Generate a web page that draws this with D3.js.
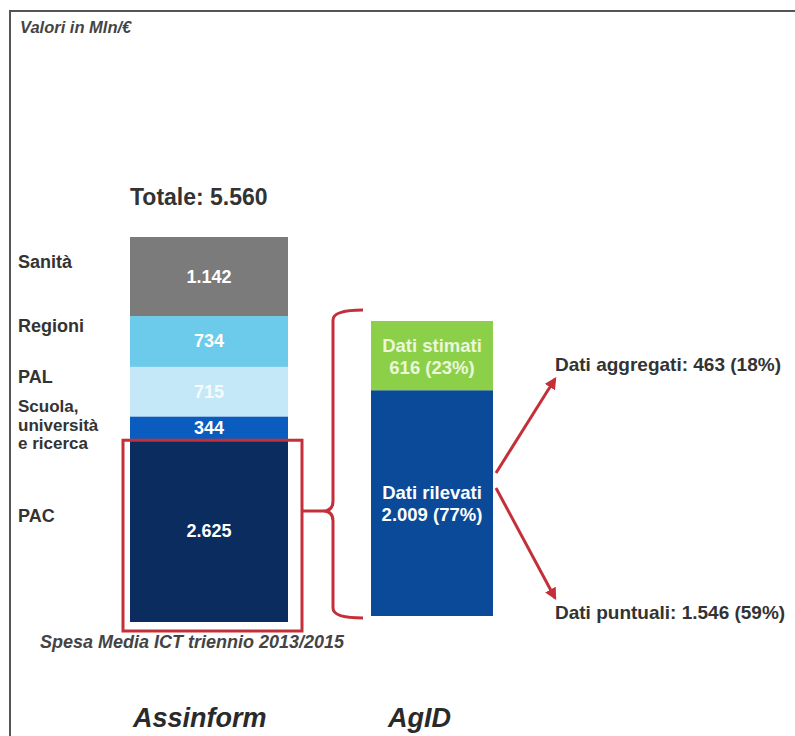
<!DOCTYPE html>
<html>
<head>
<meta charset="utf-8">
<script src="https://cdn.jsdelivr.net/npm/d3@7"></script>
<style>
  html, body { margin: 0; padding: 0; background: #fff; }
  svg { display: block; font-family: Arial, "Liberation Sans", sans-serif; }
</style>
</head>
<body>
<svg id="chart" width="795" height="736"></svg>
<script>
// ---- Data ----
const assinformCategories = ["PAC", "Scuola, università e ricerca", "PAL", "Regioni", "Sanità"];
const assinformLabelLines = [["PAC"], ["Scuola,", "università", "e ricerca"], ["PAL"], ["Regioni"], ["Sanità"]];
const assinformValues = [2625, 344, 715, 734, 1142];
const assinformValueLabels = ["2.625", "344", "715", "734", "1.142"];
const assinformTotal = 5560;
const assinformTotalLabel = "Totale: 5.560";

const agidCategories = ["Dati rilevati", "Dati stimati"];
const agidValues = [2009, 616];
const agidValueLabels = [["Dati rilevati", "2.009 (77%)"], ["Dati stimati", "616 (23%)"]];

const breakdownLabels = ["Dati aggregati: 463 (18%)", "Dati puntuali: 1.546 (59%)"];
const breakdownValues = [463, 1546];

const unitNote = "Valori in Mln/€";
const periodNote = "Spesa Media ICT triennio 2013/2015";
const sourceNames = ["Assinform", "AgID"];

// ---- Styles ----
const assinformColors = ["#0a2c5e", "#0b5cbf", "#c5e8f8", "#6ccbea", "#7b7b7b"];
const agidColors = ["#0b4a98", "#8cd04a"];
const red = "#c4303a";
const textDark = "#333";

// ---- Layout ----
const svg = d3.select("#chart");

// frame
svg.append("path")
  .attr("d", "M10,736 L10,11 L795,11")
  .attr("fill", "none").attr("stroke", "#555").attr("stroke-width", 2);

const wA = 158, wB = 122;
const xA = 130, xB = 371;

const yA = d3.scaleLinear().domain([0, assinformTotal]).range([622, 237]);
const agidTotal = d3.sum(agidValues);
const yB = d3.scaleLinear().domain([0, agidTotal]).range([616, 321]);

function stackOf(values) {
  let acc = 0;
  return values.map((v, i) => { const s = { i, v, y0: acc, y1: acc + v }; acc += v; return s; });
}
const stA = stackOf(assinformValues);
const stB = stackOf(agidValues);

const gA = svg.append("g");
gA.selectAll("rect").data(stA).join("rect")
  .attr("x", xA).attr("width", wA)
  .attr("y", d => yA(d.y1)).attr("height", d => yA(d.y0) - yA(d.y1))
  .attr("fill", d => assinformColors[d.i]);

gA.selectAll("text.val").data(stA).join("text")
  .attr("class", "val")
  .attr("x", xA + wA / 2)
  .attr("y", d => (yA(d.y0) + yA(d.y1)) / 2 + 6)
  .attr("text-anchor", "middle")
  .attr("font-weight", "bold").attr("font-size", 18)
  .attr("fill", "#fff")
  .attr("fill-opacity", d => d.i === 2 ? 0.85 : 1)
  .text(d => assinformValueLabels[d.i]);

// category labels on left
stA.forEach(d => {
  const lines = assinformLabelLines[d.i];
  const mid = (yA(d.y0) + yA(d.y1)) / 2;
  const lh = 18.5;
  const multi = lines.length > 1;
  const startY = multi ? mid - 16 : mid - 9;
  lines.forEach((ln, k) => {
    svg.append("text")
      .attr("x", 18).attr("y", startY + k * lh)
      .attr("font-weight", "bold").attr("font-size", multi ? 17 : 18).attr("fill", textDark)
      .text(ln);
  });
});

svg.append("text")
  .attr("x", xA).attr("y", 205)
  .attr("font-weight", "bold").attr("font-size", 23).attr("fill", textDark)
  .text(assinformTotalLabel);

// AgID bar
const gB = svg.append("g");
gB.selectAll("rect").data(stB).join("rect")
  .attr("x", xB).attr("width", wB)
  .attr("y", d => yB(d.y1)).attr("height", d => yB(d.y0) - yB(d.y1))
  .attr("fill", d => agidColors[d.i]);

stB.forEach(d => {
  const mid = (yB(d.y0) + yB(d.y1)) / 2;
  agidValueLabels[d.i].forEach((ln, k) => {
    svg.append("text")
      .attr("x", xB + wB / 2).attr("y", mid - 4 + k * 22)
      .attr("text-anchor", "middle").attr("font-weight", "bold").attr("font-size", 18.5)
      .attr("fill", d.i === 1 ? "#eaf7d8" : "#fff")
      .text(ln);
  });
});

// red box around PAC
const pac = stA[0];
svg.append("rect")
  .attr("x", xA - 7).attr("y", yA(pac.y1))
  .attr("width", wA + 21).attr("height", yA(pac.y0) - yA(pac.y1) + 9)
  .attr("fill", "none").attr("stroke", red).attr("stroke-width", 3);

// bracket
const bTop = yB(agidTotal) - 11, bBot = yB(0) + 2, bx = 333, tipY = 511, tipX = xA + wA + 14;
const r = 10;
svg.append("path")
  .attr("d", `M${bx + 30},${bTop} Q${bx},${bTop} ${bx},${bTop + r} L${bx},${tipY - r} Q${bx},${tipY} ${bx - r},${tipY} L${tipX},${tipY}
              M${bx - r},${tipY} Q${bx},${tipY} ${bx},${tipY + r} L${bx},${bBot - r} Q${bx},${bBot} ${bx + 30},${bBot}`)
  .attr("fill", "none").attr("stroke", red).attr("stroke-width", 3);

// arrows
svg.append("defs").append("marker")
  .attr("id", "ah").attr("viewBox", "0 0 10 10").attr("refX", 8).attr("refY", 5)
  .attr("markerWidth", 4).attr("markerHeight", 4).attr("orient", "auto")
  .append("path").attr("d", "M0,0 L10,5 L0,10 z").attr("fill", red);

const arrowStartX = xB + wB + 3;
const labelX = 555;
const arrowDefs = [
  { sy: 473, ey: 379, ly: 371 },
  { sy: 488, ey: 598, ly: 619 }
];
arrowDefs.forEach((a, i) => {
  svg.append("line")
    .attr("x1", arrowStartX).attr("y1", a.sy).attr("x2", labelX).attr("y2", a.ey)
    .attr("stroke", red).attr("stroke-width", 3).attr("marker-end", "url(#ah)");
  svg.append("text")
    .attr("x", labelX).attr("y", a.ly)
    .attr("font-weight", "bold").attr("font-size", 19).attr("fill", textDark)
    .text(breakdownLabels[i]);
});

// notes
svg.append("text")
  .attr("x", 20).attr("y", 33)
  .attr("font-weight", "bold").attr("font-style", "italic").attr("font-size", 16.5).attr("fill", "#444")
  .text(unitNote);

svg.append("text")
  .attr("x", 40).attr("y", 648)
  .attr("font-weight", "bold").attr("font-style", "italic").attr("font-size", 18).attr("fill", "#444")
  .text(periodNote);

const srcX = [xA + 3, 388];
sourceNames.forEach((s, i) => {
  svg.append("text")
    .attr("x", srcX[i]).attr("y", 727)
    .attr("font-weight", "bold").attr("font-style", "italic").attr("font-size", 27).attr("fill", "#2a2a2a")
    .text(s);
});
</script>
</body>
</html>
